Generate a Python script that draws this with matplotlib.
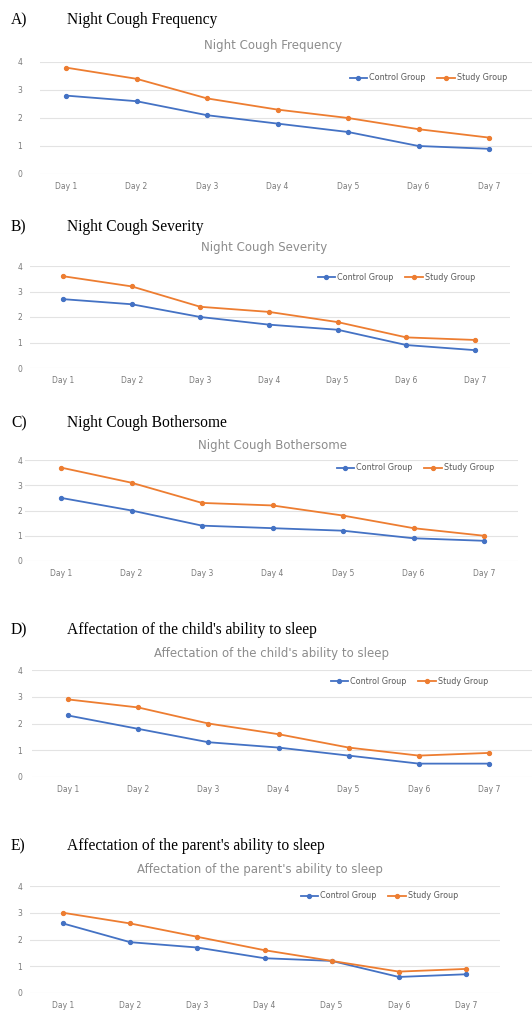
import matplotlib
matplotlib.use('Agg')
import matplotlib.pyplot as plt

days = ['Day 1', 'Day 2', 'Day 3', 'Day 4', 'Day 5', 'Day 6', 'Day 7']
letters = ['A)', 'B)', 'C)', 'D)', 'E)']
titles = ['Night Cough Frequency', 'Night Cough Severity', 'Night Cough Bothersome',
          "Affectation of the child's ability to sleep",
          "Affectation of the parent's ability to sleep"]

control_a = [2.8, 2.6, 2.1, 1.8, 1.5, 1.0, 0.9]
study_a = [3.8, 3.4, 2.7, 2.3, 2.0, 1.6, 1.3]
control_b = [2.7, 2.5, 2.0, 1.7, 1.5, 0.9, 0.7]
study_b = [3.6, 3.2, 2.4, 2.2, 1.8, 1.2, 1.1]
control_c = [2.5, 2.0, 1.4, 1.3, 1.2, 0.9, 0.8]
study_c = [3.7, 3.1, 2.3, 2.2, 1.8, 1.3, 1.0]
control_d = [2.3, 1.8, 1.3, 1.1, 0.8, 0.5, 0.5]
study_d = [2.9, 2.6, 2.0, 1.6, 1.1, 0.8, 0.9]
control_e = [2.6, 1.9, 1.7, 1.3, 1.2, 0.6, 0.7]
study_e = [3.0, 2.6, 2.1, 1.6, 1.2, 0.8, 0.9]

controls = [control_a, control_b, control_c, control_d, control_e]
studies = [study_a, study_b, study_c, study_d, study_e]

# layout in pixels: day1 x, day7 x, grid left, grid right, y0, y4,
# heading y, inner title x/y, legend right/y
layout = [
    (66, 489, 40, 532, 174, 62, 20, 273, 45, 507, 78),
    (63, 475, 30, 510, 368, 266, 227, 264, 248, 475, 277),
    (61, 484, 25, 518, 561, 460, 423, 272, 445, 494, 468),
    (68, 489, 32, 532, 777, 670, 630, 272, 653, 488, 681),
    (63, 466, 30, 500, 993, 886, 846, 260, 869, 458, 896),
]

W, H = 532, 1010
fig = plt.figure(figsize=(W / 100, H / 100), dpi=100)

blue = '#4472C4'
orange = '#ED7D31'

for i in range(5):
    d1, d7, gl, gr, y0, y4, hy, tx, ty, lr, ly = layout[i]
    sp = (d7 - d1) / 6.0
    x_lo = (gl - d1) / sp
    x_hi = (gr - d1) / sp
    ax = fig.add_axes([gl / W, 1 - y0 / H, (gr - gl) / W, (y0 - y4) / H])
    xs = list(range(len(days)))
    ax.plot(xs, controls[i], color=blue, lw=1.3, marker='o', ms=2.8, label='Control Group')
    ax.plot(xs, studies[i], color=orange, lw=1.3, marker='o', ms=2.8, label='Study Group')
    ax.set_xlim(x_lo, x_hi)
    ax.set_ylim(0, 4)
    ax.set_yticks([0, 1, 2, 3, 4])
    ax.set_xticks(xs)
    ax.set_xticklabels(days)
    ax.grid(axis='y', color='#e3e3e3', lw=0.8)
    ax.set_axisbelow(True)
    for s in ax.spines.values():
        s.set_visible(False)
    ax.tick_params(length=0, labelsize=5.5, labelcolor='#7a7a7a')
    ax.tick_params(axis='x', pad=6)
    ax.tick_params(axis='y', pad=(gl - 22) * 0.72)

    fig.text(11 / W, 1 - hy / H, letters[i], family='Liberation Serif', fontsize=11.2,
             va='center', ha='left')
    fig.text(67 / W, 1 - hy / H, titles[i], family='Liberation Serif', fontsize=11.2,
             va='center', ha='left')
    fig.text(tx / W, 1 - ty / H, titles[i], color='#8c8c8c', fontsize=8.5,
             va='center', ha='center')
    fig.legend(handles=ax.get_lines(), loc='center right', ncol=2, frameon=False,
               bbox_to_anchor=(lr / W, 1 - ly / H), fontsize=5.8, labelcolor='#595959',
               handlelength=2.2, handletextpad=0.2, columnspacing=1.5,
               borderpad=0, borderaxespad=0)

fig.savefig('out.png', dpi=100)
